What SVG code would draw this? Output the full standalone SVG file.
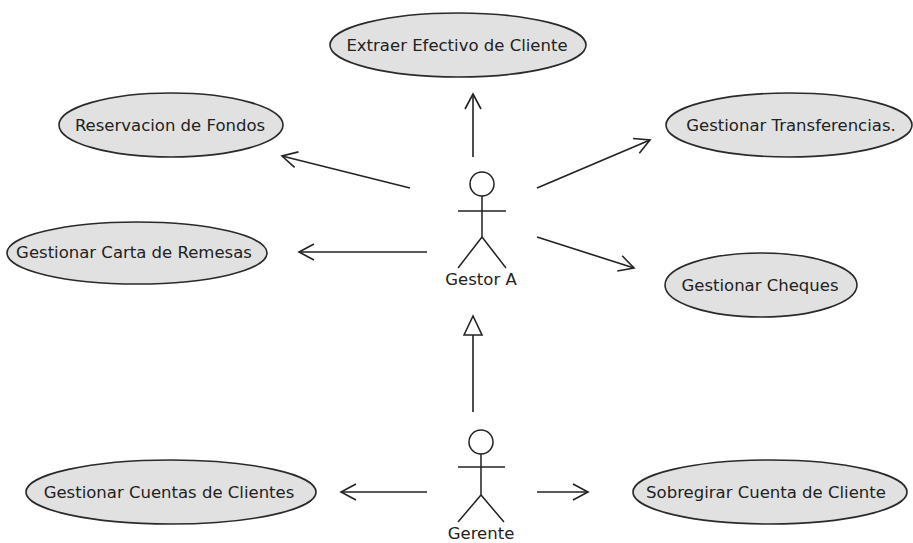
<svg xmlns="http://www.w3.org/2000/svg" width="913" height="543" viewBox="0 0 913 543">
  <style>
    .uc ellipse { fill: #e1e1e1; stroke: #2a2a2a; stroke-width: 1.6; }
    .uc text, .actor text { font-family: "DejaVu Sans", "Liberation Sans", sans-serif; font-size: 16.5px; fill: #222; text-anchor: middle; }
    .actor circle, .actor path { fill: none; stroke: #222; stroke-width: 1.5; }
    .edge { fill: none; stroke: #222; stroke-width: 1.6; }
    .assoc { marker-end: url(#open); }
    .gen { marker-end: url(#hollow); }
  </style>
  <defs>
    <marker id="open" markerUnits="userSpaceOnUse" markerWidth="20" markerHeight="20" refX="16" refY="9" orient="auto">
      <path d="M1,1 L16,9 L1,17" fill="none" stroke="#222" stroke-width="1.6"/>
    </marker>
    <marker id="hollow" markerUnits="userSpaceOnUse" markerWidth="24" markerHeight="24" refX="20" refY="10" orient="auto">
      <path d="M1,1 L20,10 L1,19 Z" fill="#fff" stroke="#222" stroke-width="1.6"/>
    </marker>
  </defs>

  <rect width="913" height="543" fill="#fff"/>

  <!-- connectors -->
  <g id="connectors">
    <line class="edge assoc" x1="473" y1="157" x2="473" y2="94"/>
    <line class="edge assoc" x1="410" y1="188" x2="282" y2="156"/>
    <line class="edge assoc" x1="427" y1="252" x2="299" y2="252"/>
    <line class="edge assoc" x1="537" y1="188" x2="650" y2="140"/>
    <line class="edge assoc" x1="537" y1="237" x2="634" y2="268"/>
    <line class="edge gen" x1="473" y1="412" x2="473" y2="316"/>
    <line class="edge assoc" x1="427" y1="492" x2="341" y2="492"/>
    <line class="edge assoc" x1="537" y1="492" x2="588" y2="492"/>
  </g>

  <!-- use cases -->
  <g id="uc-extraer" class="uc">
    <ellipse cx="458" cy="45" rx="128" ry="32"/>
    <text x="457" y="51">Extraer Efectivo de Cliente</text>
  </g>
  <g id="uc-reservacion" class="uc">
    <ellipse cx="171" cy="125" rx="112" ry="32"/>
    <text x="170" y="131">Reservacion de Fondos</text>
  </g>
  <g id="uc-carta" class="uc">
    <ellipse cx="137" cy="253" rx="130" ry="31"/>
    <text x="134" y="258">Gestionar Carta de Remesas</text>
  </g>
  <g id="uc-transferencias" class="uc">
    <ellipse cx="789" cy="125" rx="123" ry="32"/>
    <text x="791" y="131">Gestionar Transferencias.</text>
  </g>
  <g id="uc-cheques" class="uc">
    <ellipse cx="761" cy="285" rx="96" ry="32"/>
    <text x="760" y="291">Gestionar Cheques</text>
  </g>
  <g id="uc-cuentas" class="uc">
    <ellipse cx="171" cy="492" rx="145" ry="32"/>
    <text x="169" y="498">Gestionar Cuentas de Clientes</text>
  </g>
  <g id="uc-sobregirar" class="uc">
    <ellipse cx="770" cy="492" rx="137" ry="32"/>
    <text x="766" y="498">Sobregirar Cuenta de Cliente</text>
  </g>

  <!-- actors -->
  <g id="actor-gestor" class="actor">
    <circle cx="482" cy="184" r="12"/>
    <path d="M482,196 V237 M458,211 H506 M458,268 L482,237 L506,268"/>
    <text x="481" y="285">Gestor A</text>
  </g>
  <g id="actor-gerente" class="actor">
    <circle cx="481" cy="442" r="12"/>
    <path d="M481,454 V495 M458,467 H505 M458,522 L481,495 L504,522"/>
    <text x="481" y="539">Gerente</text>
  </g>
</svg>
